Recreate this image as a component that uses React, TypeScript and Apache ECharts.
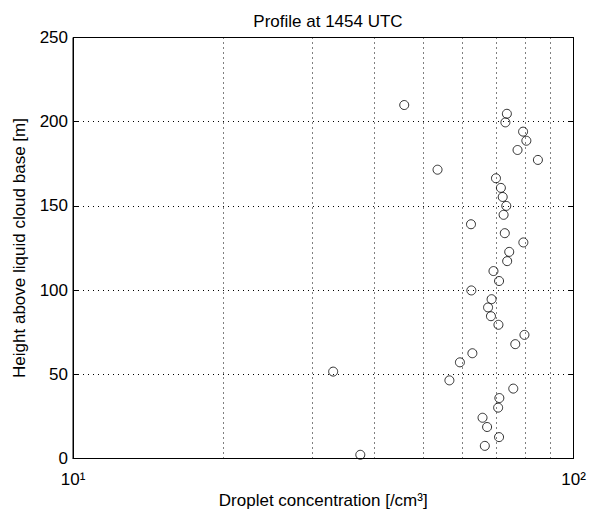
import React, { useEffect, useRef } from "react";
import * as echarts from "echarts";

const concentration = [
  45.9, 73.6, 73.1, 79.3, 80.5, 77.3, 84.9, 53.5, 70.0, 71.6, 72.2, 73.4, 72.5, 62.4, 72.9, 79.4, 74.4, 73.7, 69.2,
  71.0, 62.5, 68.6, 67.5, 68.4, 70.8, 79.8, 76.5, 62.8, 59.3, 33.1, 56.5, 75.8, 71.1, 70.7, 65.8, 67.2, 71.0, 66.5, 37.5,
];
const height = [
  209.9, 204.7, 199.6, 194.1, 188.7, 183.2, 177.3, 171.5, 166.4, 160.7, 155.3, 150.0, 144.7, 139.1, 133.8, 128.3, 122.7, 117.2, 111.3,
  105.4, 99.8, 94.6, 89.7, 84.5, 79.4, 73.4, 67.9, 62.5, 57.1, 51.6, 46.4, 41.5, 35.9, 30.2, 24.2, 18.7, 12.7, 7.5, 2.2,
];
const minorGrid = [20, 30, 40, 50, 60, 70, 80, 90];
const xTickLabels: Record<number, string> = { 10: "10\u00b9", 100: "10\u00b2" };
const titleText = "Profile at 1454 UTC";
const xName = "Droplet concentration [/cm\u00b3]";
const yName = "Height above liquid cloud base [m]";

const FONT = "Liberation Sans, Arial, Helvetica, sans-serif";
const FS = 17;

export default function App() {
  const ref = useRef<HTMLDivElement>(null);
  useEffect(() => {
    if (!ref.current) return;
    document.body.style.margin = "0";
    document.body.style.overflow = "hidden";
    const chart = echarts.init(ref.current, null, { renderer: "svg" });
    const dotted = { type: [1, 4] as any, color: "#000", width: 1 };
    chart.setOption({
      animation: false,
      backgroundColor: "#fff",
      textStyle: { fontFamily: FONT, color: "#000" },
      title: {
        text: titleText,
        left: 323,
        textAlign: "center",
        top: 8,
        textStyle: { fontFamily: FONT, fontSize: FS, fontWeight: "normal", color: "#000" },
      },
      grid: { left: 73, right: 15.5, top: 37.5, bottom: 57.5, show: true, borderColor: "#000", borderWidth: 1, backgroundColor: "#fff" },
      xAxis: {
        type: "log",
        logBase: 10,
        min: 10,
        max: 100,
        name: xName,
        nameLocation: "middle",
        nameGap: 32,
        nameTextStyle: { fontFamily: FONT, fontSize: FS, color: "#000" },
        axisLine: { show: true, lineStyle: { color: "#000" } },
        axisTick: { show: true, inside: true, length: 5, lineStyle: { color: "#000" } },
        axisLabel: {
          fontFamily: FONT,
          fontSize: FS,
          color: "#000",
          margin: 12,
          formatter: (v: number) => xTickLabels[Math.round(v)] ?? String(v),
        },
        splitLine: { show: false },
      },
      yAxis: [
        {
          type: "value",
          min: 0,
          max: 250,
          interval: 50,
          name: yName,
          nameLocation: "middle",
          nameGap: 45,
          nameTextStyle: { fontFamily: FONT, fontSize: FS, color: "#000" },
          axisLine: { show: true, lineStyle: { color: "#000" } },
          axisTick: { show: true, inside: true, length: 5, lineStyle: { color: "#000" } },
          axisLabel: { fontFamily: FONT, fontSize: FS, color: "#000", margin: 5 },
          splitLine: { show: true, lineStyle: dotted },
        },
        {
          type: "value",
          min: 0,
          max: 250,
          interval: 50,
          position: "right",
          axisLine: { show: true, lineStyle: { color: "#000" } },
          axisTick: { show: true, inside: true, length: 5, lineStyle: { color: "#000" } },
          axisLabel: { show: false },
          splitLine: { show: false },
        },
      ],
      series: [
        {
          type: "scatter",
          data: [],
          silent: true,
          markLine: {
            silent: true,
            symbol: "none",
            label: { show: false },
            lineStyle: dotted,
            data: minorGrid.map((v) => ({ xAxis: v })),
          },
        },
        {
          type: "scatter",
          symbol: "circle",
          symbolSize: 9,
          itemStyle: { color: "rgba(0,0,0,0)", borderColor: "#000", borderWidth: 1 },
          data: concentration.map((c, i) => [c, height[i]]),
        },
      ],
    });
    return () => chart.dispose();
  }, []);
  return <div ref={ref} style={{ width: 589, height: 516 }} />;
}
